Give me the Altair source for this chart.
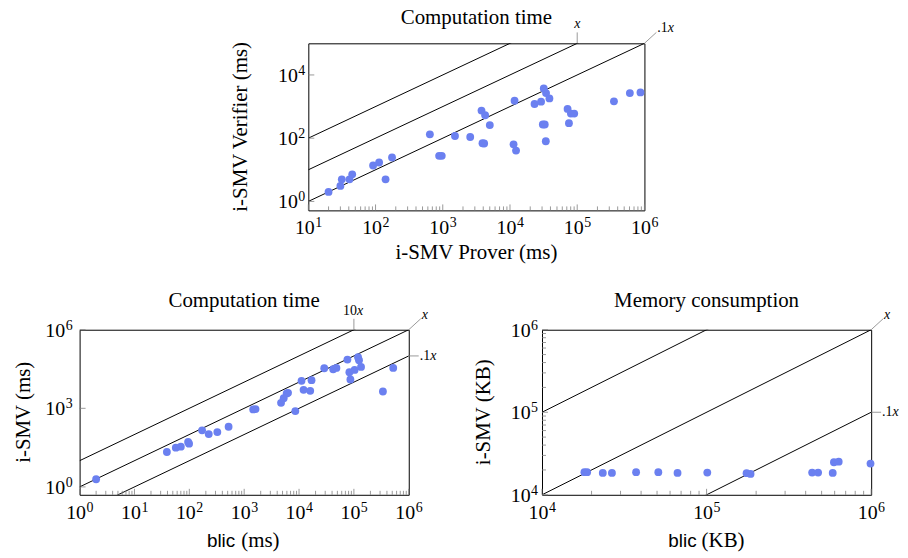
import altair as alt
import pandas as pd

# ---------------- data ----------------
top_prover_ms = [20, 30, 31.5, 41, 45, 92, 113, 176, 141, 643, 883, 966, 1520, 2560,
                 3770, 4270, 3900, 4130, 5010, 11700, 11300, 12300, 23200, 29000, 31800,
                 34400, 38600, 30800, 32900, 34100, 71900, 80600, 90300, 75300, 352000,
                 607000, 873000]
top_verifier_ms = [2.0, 3.1, 5, 5, 7.2, 13.7, 17, 24.5, 5, 132, 27.6, 27.6, 117, 109,
                   745, 532, 69, 68, 259, 1530, 64, 40.6, 1205, 1426, 3730,
                   2670, 1812, 271, 271, 80, 840, 600, 600, 299, 1460,
                   2670, 2800]

bl_blic_ms = [2.0, 39, 56.8, 70, 95, 99, 171, 226, 324, 520, 1460, 1610, 4700, 5250,
              5950, 6300, 8560, 11100, 12100, 16000, 16900, 28800, 41900, 48000, 76200,
              82800, 86300, 103000, 119000, 124000, 135000, 338000, 521000]
bl_ismv_ms = [1.96, 21.5, 31.4, 34.3, 51.7, 44.7, 144, 104, 124, 198, 906, 933, 1625, 2440,
              3680, 3900, 782, 11200, 5080, 4660, 11900, 33900, 31000, 34900, 72400,
              23900, 12600, 29300, 88900, 68400, 38100, 4390, 34900]

br_blic_kb = [18100, 18800, 23400, 26600, 37300, 50900, 66600, 101000, 175000, 185000,
              438000, 476000, 584000, 594000, 635000, 991000]
br_ismv_kb = [18800, 18800, 18400, 18400, 18800, 18800, 18400, 18600, 18300, 17900,
              18600, 18600, 18400, 24800, 25200, 23900]

line_factors = [10, 1, 0.1]

top_x_major = [1e1, 1e2, 1e3, 1e4, 1e5, 1e6]
top_x_exp = ["1", "2", "3", "4", "5", "6"]
top_y_major = [1, 1e2, 1e4]
top_y_exp = ["0", "2", "4"]

bl_x_major = [1, 1e1, 1e2, 1e3, 1e4, 1e5, 1e6]
bl_x_exp = ["0", "1", "2", "3", "4", "5", "6"]
bl_y_major = [1, 1e3, 1e6]
bl_y_exp = ["0", "3", "6"]

br_x_major = [1e4, 1e5, 1e6]
br_x_exp = ["4", "5", "6"]
br_y_major = [1e4, 1e5, 1e6]
br_y_exp = ["4", "5", "6"]

POINT = "#6b80f0"
TICK = "#808080"
SERIF = "Liberation Serif"
SANS = "Liberation Sans"
ANN = 14

ONE = pd.DataFrame({"a": [0]})


def minors(major):
    out = []
    for lo in major[:-1]:
        out += [m * lo for m in range(2, 10)]
    return out


def txt(text, x, y, size=21, font=SERIF, align="center", baseline="alphabetic",
        italic=False, angle=0, dx=0, dy=0):
    kw = dict(font=font, fontSize=size, align=align, baseline=baseline,
              fontWeight="normal", dx=dx, dy=dy)
    if italic:
        kw["fontStyle"] = "italic"
    if angle:
        kw["angle"] = angle
    return alt.Chart(ONE).mark_text(**kw).encode(x=x, y=y, text=alt.value(text))


def panel(xv, yv, xdom, ydom, w, h, xmaj, xexp, ymaj, yexp, y_minor,
          title, title_y, ytitle, ytitle_x, ylab_right, xtitle, annots):
    xs = alt.Scale(type="log", domain=xdom)
    ys = alt.Scale(type="log", domain=ydom)
    X = lambda f: alt.X(f, scale=xs, axis=None)
    Y = lambda f: alt.Y(f, scale=ys, axis=None)
    XD = lambda v: alt.X(datum=v, scale=xs, axis=None)
    YD = lambda v: alt.Y(datum=v, scale=ys, axis=None)
    layers = []

    # reference lines y = k x
    rows = []
    for k in line_factors:
        rows.append({"x": xdom[0], "y": k * xdom[0], "k": str(k)})
        rows.append({"x": xdom[1], "y": k * xdom[1], "k": str(k)})
    layers.append(alt.Chart(pd.DataFrame(rows)).mark_line(
        color="black", strokeWidth=1, clip=True).encode(
        x=X("x:Q"), y=Y("y:Q"), detail="k:N"))

    # ticks (inside)
    xmin_df = pd.DataFrame({"tv": minors(xmaj)})
    layers.append(alt.Chart(xmin_df).mark_rule(color=TICK, strokeWidth=0.8).encode(
        x=X("tv:Q"), y=alt.value(h), y2=alt.value(h - 4)))
    xmaj_df = pd.DataFrame({"tv": xmaj, "exp": xexp})
    layers.append(alt.Chart(xmaj_df).mark_rule(color=TICK, strokeWidth=0.8).encode(
        x=X("tv:Q"), y=alt.value(h), y2=alt.value(h - 6)))
    ymaj_df = pd.DataFrame({"tv": ymaj, "exp": yexp})
    layers.append(alt.Chart(ymaj_df).mark_rule(color=TICK, strokeWidth=0.8).encode(
        y=Y("tv:Q"), x=alt.value(0), x2=alt.value(6)))
    if y_minor:
        ymin_df = pd.DataFrame({"tv": minors(ymaj)})
        layers.append(alt.Chart(ymin_df).mark_rule(color=TICK, strokeWidth=0.8).encode(
            y=Y("tv:Q"), x=alt.value(0), x2=alt.value(4)))

    # points
    layers.append(alt.Chart(pd.DataFrame({"x": xv, "y": yv})).mark_circle(
        size=62, color=POINT, opacity=1).encode(x=X("x:Q"), y=Y("y:Q")))

    # tick labels
    layers.append(alt.Chart(xmaj_df).mark_text(
        font=SERIF, fontSize=20, align="right", baseline="alphabetic", dx=6.5).encode(
        x=X("tv:Q"), y=alt.value(h + 24), text=alt.value("10")))
    layers.append(alt.Chart(xmaj_df).mark_text(
        font=SERIF, fontSize=14, align="left", baseline="alphabetic", dx=7).encode(
        x=X("tv:Q"), y=alt.value(h + 17), text="exp:N"))
    layers.append(alt.Chart(ymaj_df).mark_text(
        font=SERIF, fontSize=20, align="right", baseline="alphabetic", dy=7).encode(
        x=alt.value(ylab_right - 7.5), y=Y("tv:Q"), text=alt.value("10")))
    layers.append(alt.Chart(ymaj_df).mark_text(
        font=SERIF, fontSize=14, align="left", baseline="alphabetic", dy=0).encode(
        x=alt.value(ylab_right - 7), y=Y("tv:Q"), text="exp:N"))

    # titles
    layers.append(txt(title, alt.value(w / 2), alt.value(title_y)))
    layers.append(txt(ytitle, alt.value(ytitle_x), alt.value(h / 2),
                      baseline="middle", angle=270))
    if isinstance(xtitle, str):
        layers.append(txt(xtitle, alt.value(w / 2), alt.value(h + 49)))
    else:
        sans_part, serif_part, off_r, off_l = xtitle
        layers.append(txt(sans_part, alt.value(w / 2 + off_r), alt.value(h + 52.5),
                          size=19, font=SANS, align="right"))
        layers.append(txt(serif_part, alt.value(w / 2 + off_l), alt.value(h + 52.5),
                          align="left"))

    # line annotations
    for a in annots:
        kind = a["kind"]
        if kind == "top":  # vertical leader above the top edge at x = a["at"]
            layers.append(alt.Chart(ONE).mark_rule(color=TICK, strokeWidth=0.8).encode(
                x=XD(a["at"]), y=alt.value(0), y2=alt.value(-11)))
            layers.append(txt(a["label"], XD(a["at"]), alt.value(-15), size=ANN,
                              align="left", italic=True, dx=a["dx"]))
            if a.get("prefix"):
                layers.append(txt(a["prefix"], XD(a["at"]), alt.value(-15), size=ANN,
                                  align="right", dx=a["dx"]))
        elif kind == "corner":  # diagonal leader from the top-right corner
            layers.append(alt.Chart(ONE).mark_rule(color=TICK, strokeWidth=0.8).encode(
                x=alt.value(w), y=alt.value(0), x2=alt.value(w + 12), y2=alt.value(-11)))
            if a.get("prefix"):
                layers.append(txt(a["prefix"], alt.value(w + 13), alt.value(-11),
                                  size=ANN, align="left"))
            layers.append(txt(a["label"], alt.value(w + 13 + a.get("shift", 0)),
                              alt.value(-11), size=ANN, align="left", italic=True))
        elif kind == "right":  # horizontal leader at y = a["at"]
            layers.append(alt.Chart(ONE).mark_rule(color=TICK, strokeWidth=0.8).encode(
                y=YD(a["at"]), x=alt.value(w), x2=alt.value(w + 10)))
            layers.append(txt(".1", alt.value(w + 11), YD(a["at"]), size=ANN,
                              align="left", baseline="middle"))
            layers.append(txt("x", alt.value(w + 21.5), YD(a["at"]), size=ANN,
                              align="left", baseline="middle", italic=True))

    return alt.layer(*layers).properties(width=w, height=h)


top = panel(top_prover_ms, top_verifier_ms, [10, 1e6], [0.52, 1e5], 338, 168,
            top_x_major, top_x_exp, top_y_major, top_y_exp, False,
            "Computation time", -19.2, "i-SMV Verifier (ms)", -68, -3,
            "i-SMV Prover (ms)",
            [{"kind": "top", "at": 1e5, "label": "x", "dx": -3},
             {"kind": "corner", "label": "x", "prefix": ".1", "shift": 10.5}])

bl = panel(bl_blic_ms, bl_ismv_ms, [1, 1e6], [0.5, 1e6], 331, 166,
           bl_x_major, bl_x_exp, bl_y_major, bl_y_exp, False,
           "Computation time", -22.5, "i-SMV (ms)", -56, -7,
           ("blic", "(ms)", -9, -3),
           [{"kind": "top", "at": 1e5, "label": "x", "prefix": "10", "dx": 3},
            {"kind": "corner", "label": "x"},
            {"kind": "right", "at": 1e5}])

br = panel(br_blic_kb, br_ismv_kb, [1e4, 1e6], [1e4, 1e6], 331, 166,
           br_x_major, br_x_exp, br_y_major, br_y_exp, True,
           "Memory consumption", -22.5, "i-SMV (KB)", -58, -4,
           ("blic", "(KB)", -10, -5),
           [{"kind": "corner", "label": "x"},
            {"kind": "right", "at": 1e5}])

spacer = alt.Chart(ONE).mark_point(opacity=0).encode(
    x=alt.X("a:Q", axis=None), y=alt.Y("a:Q", axis=None)
).properties(width=10, height=168, view=alt.ViewBackground(stroke="transparent"))

row1 = alt.hconcat(spacer, top, spacing=220, bounds="flush")
row2 = alt.hconcat(bl, br, spacing=134, bounds="flush")

chart = alt.vconcat(row1, row2, spacing=26, bounds="full").properties(
    padding={"left": 4, "top": -3, "right": 0, "bottom": 0}
).configure_view(stroke="black", strokeWidth=1)

chart.save("out.html", embed_options={"renderer": "svg", "actions": False})
